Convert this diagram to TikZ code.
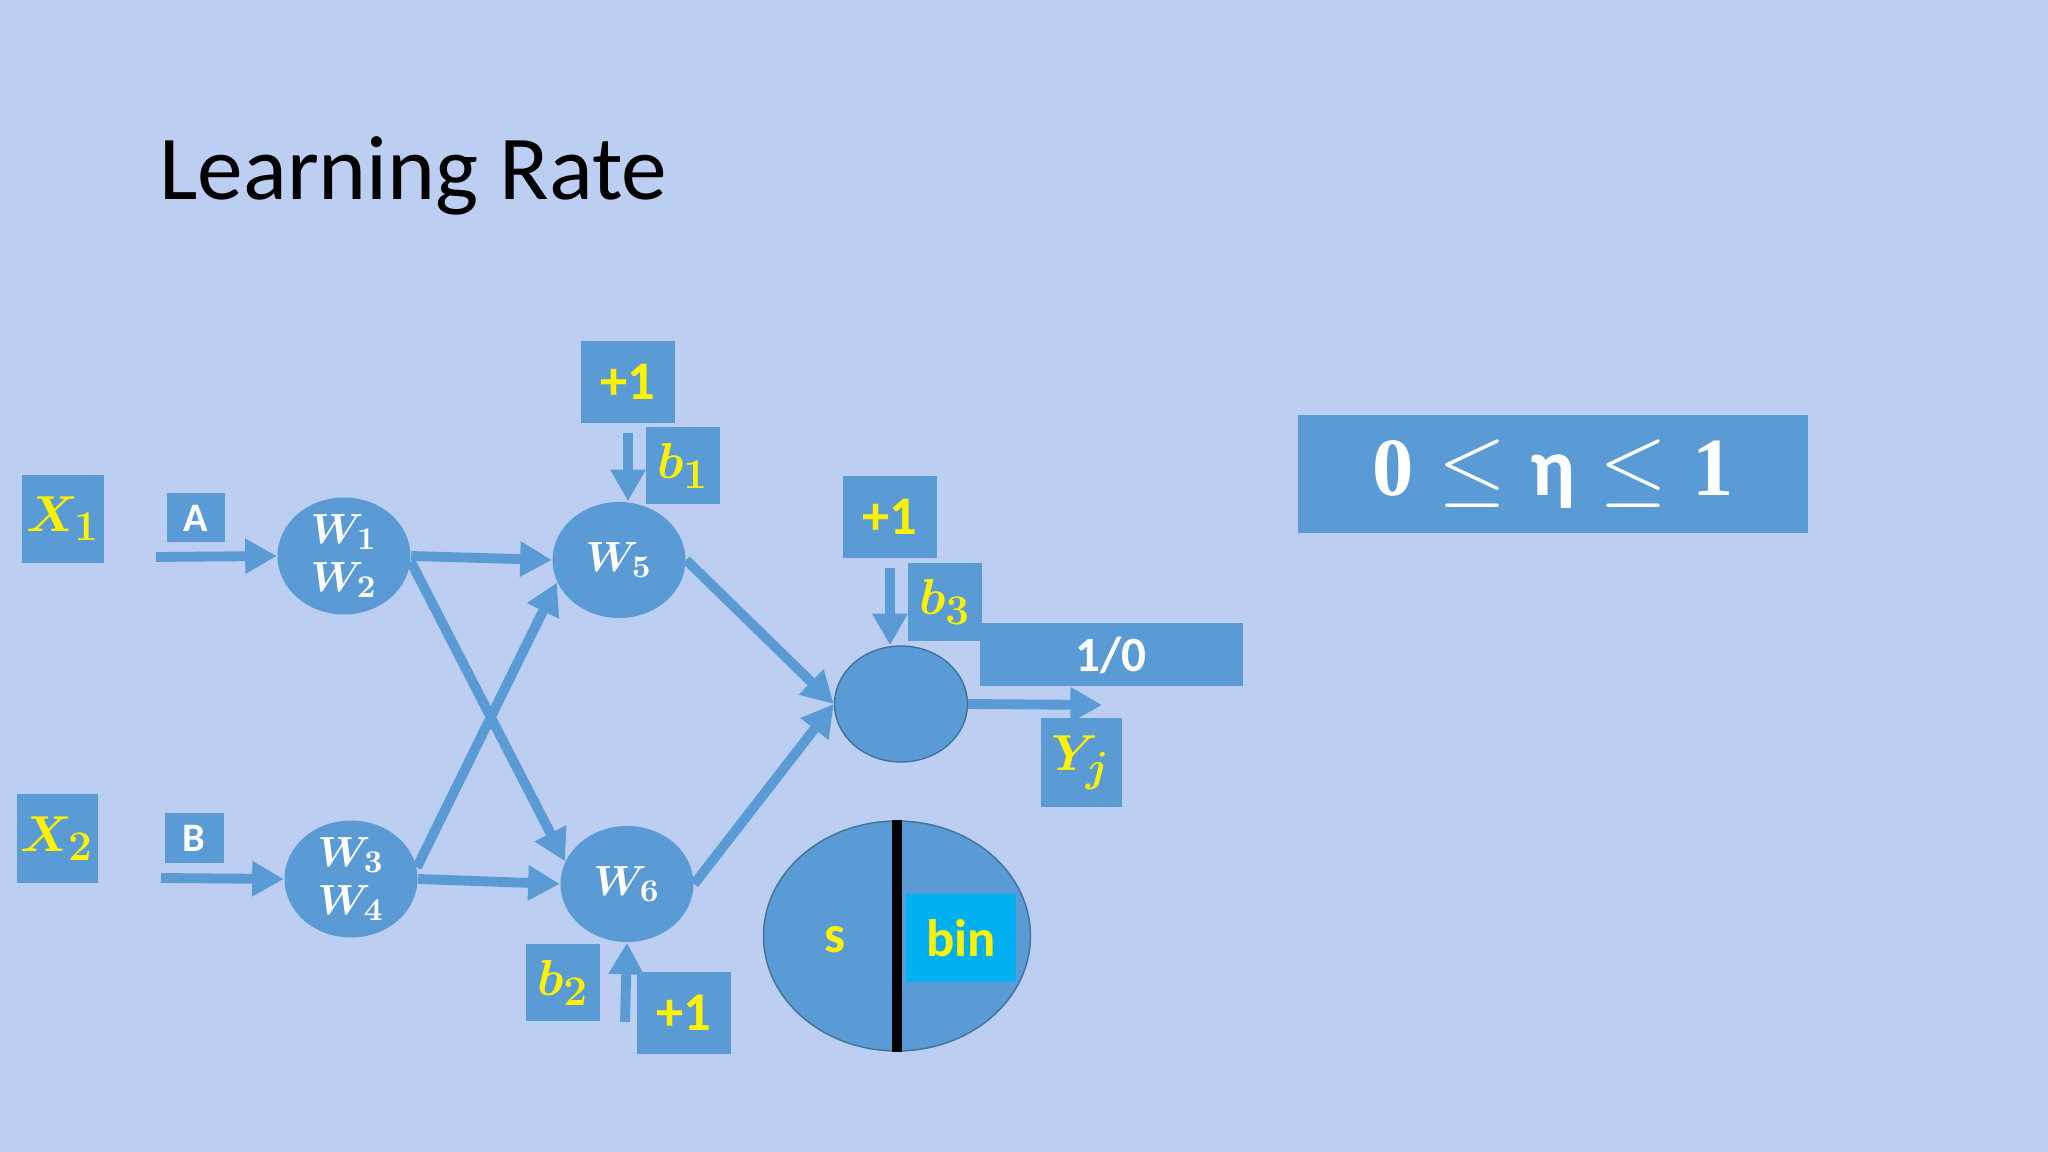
\documentclass[tikz,border=0pt]{standalone}
\usepackage[no-math]{fontspec}
\setmainfont{Carlito}
\newfontfamily\digitfont{Liberation Serif}
\usepackage{amsmath}
\usepackage{tikz}
\usetikzlibrary{arrows.meta,shapes.geometric}
\definecolor{slideblue}{RGB}{91,155,213}
\definecolor{edgeblue}{RGB}{65,113,156}
\definecolor{paper}{RGB}{188,206,241}
\definecolor{binblue}{RGB}{0,176,240}
\DeclareMathSizes{11.5}{11.5}{9.5}{7}
\DeclareMathSizes{14.5}{14.5}{12.5}{9}
\DeclareMathSizes{15}{15}{13}{9}

\begin{document}
\begin{tikzpicture}[x=0.1mm,y=-0.1mm,>={Triangle[width=9.5pt,length=9pt]}]
          \fill[paper] (0,0) rectangle (2048,1152);
          \useasboundingbox (0,0) rectangle (2048,1152);
          \tikzset{box/.style={fill=slideblue,inner sep=0pt,text=yellow,font=\boldmath\fontsize{14.5}{16}\selectfont}}
          \tikzset{tag/.style={box,text=white,font=\bfseries\fontsize{11.5}{13}\selectfont}}
          \tikzset{plusone/.style={box,font=\bfseries\fontsize{15.5}{17}\selectfont,minimum width=9.4mm,minimum height=8.2mm}}
          \tikzset{bias/.style={box,font=\boldmath\fontsize{15}{17}\selectfont,minimum width=7.4mm,minimum height=7.7mm}}
          \tikzset{neuron/.style={ellipse,fill=slideblue,inner sep=0pt,text=white,align=center,minimum width=13.3mm,minimum height=11.6mm,font=\boldmath\fontsize{11.5}{13.5}\selectfont}}
          \tikzset{wire/.style={->,draw=slideblue,line width=2.8pt}}
          \node[anchor=base west,font=\fontsize{26}{30}\selectfont] (title) at (147,200) {Learning Rate};
          \node[box,minimum width=8.2mm,minimum height=8.8mm]          (X1) at (63,519)    {$X_1$};
          \node[box,minimum width=8.1mm,minimum height=8.9mm]          (X2) at (57,839)    {$X_2$};
          \node[tag,minimum width=5.8mm,minimum height=4.9mm]          (A) at (196,518)    {A};
          \node[tag,minimum width=5.9mm,minimum height=5mm]          (B) at (194,838)    {B};
          \node[neuron]          (W12) at (344,556)    {$W_1$\\$W_2$};
          \node[neuron]          (W34) at (351,879)    {$W_3$\\$W_4$};
          \node[neuron]          (W5) at (619,560)    {$W_5$};
          \node[neuron]          (W6) at (627,884)    {$W_6$};
          \node[neuron,draw=edgeblue,thin]          (out) at (901,704)    {};
          \node[plusone]          (p1) at (628,382)    {+1};
          \node[plusone]          (p2) at (684,1013)    {+1};
          \node[plusone]          (p3) at (890,517)    {+1};
          \node[bias]          (b1) at (683,466)    {$b_1$};
          \node[bias]          (b2) at (563,983)    {$b_2$};
          \node[bias,minimum height=7.8mm]          (b3) at (945,602)    {$b_3$};
          \node[tag,font=\bfseries\fontsize{14}{16}\selectfont,minimum width=26.3mm,minimum height=6.3mm]          (onezero) at (1111,655)    {1/0};
          \node[box,minimum width=8.1mm,minimum height=8.9mm]          (Yj) at (1081,763)    {$Y_j$};
          \node[box,text=white,font=\fontsize{23.5}{28}\selectfont,minimum width=51mm,minimum height=11.8mm]          (eta) at (1553,474)    {$\mbox{\digitfont\bfseries 0}\leq\mbox{\bfseries η}\leq\mbox{\digitfont\bfseries 1}$};
          % activation unit
          \node[neuron,draw=edgeblue,thin,minimum width=26.7mm,minimum height=23mm]          (sb) at (897,936)    {};
          \node[box,fill=binblue,font=\bfseries\fontsize{15}{17}\selectfont,minimum width=11mm,minimum height=8.8mm]          (bin) at (961,938)    {bin};
          \node[text=yellow,font=\bfseries\fontsize{15}{17}\selectfont]          (s) at (835,940)    {s};
          \draw[line width=1mm] (sb.north) -- (sb.south);
          \coordinate (inA) at (156,557);
          \coordinate (inB) at (161,878);
          \coordinate (src2) at (625,1022);
          \coordinate (yout) at (1102,705);
          \path (inA)     edge [wire]    (W12.west)
          (inB)     edge [wire]    (W34.west)
          (W12.east)     edge [wire]    (W5.west)
          (W12.-5)     edge [wire]    (W6.160)
          (W34.10)     edge [wire]    (W5.200)
          (W34.east)     edge [wire]    (W6.west)
          (W5.east)     edge [wire]    (out.west)
          (W6.east)     edge [wire]    (out.west)
          (out.east)     edge [wire]    (yout)
          (src2)     edge [wire]    (W6.south)
          (p1.south)     edge [wire,shorten <=0.9mm]    (p1.south |- W5.north)
          (p3.south)     edge [wire,shorten <=0.9mm]    (p3.south |- out.north);
        \end{tikzpicture}
\end{document}
